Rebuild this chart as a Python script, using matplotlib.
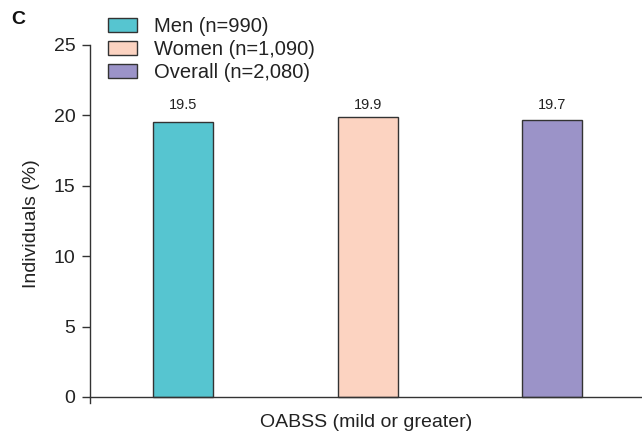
import matplotlib
matplotlib.use("Agg")
import matplotlib.pyplot as plt
from matplotlib.patches import Patch

plt.rcParams['font.family'] = ['Liberation Sans', 'DejaVu Sans']

groups = ["Men (n=990)", "Women (n=1,090)", "Overall (n=2,080)"]
values = [19.5, 19.9, 19.7]
colors = ["#56C5D0", "#FCD3C1", "#9B93C8"]
yticks = [0, 5, 10, 15, 20, 25]
xlabel = "OABSS (mild or greater)"
ylabel = "Individuals (%)"
panel = "C"

W, H = 642, 434
fig = plt.figure(figsize=(W / 100, H / 100), dpi=100)
ax = fig.add_axes([90 / W, (H - 403) / H, 1 - 90 / W, (403 - 45) / H])

edge = "#333333"
txt = "#222222"
xs = list(range(len(values)))
ax.bar(xs, values, width=0.325, color=colors, edgecolor=edge, linewidth=1.0, zorder=2)
for x, v in zip(xs, values):
    ax.text(x, max(values) + 0.85, f"{v:.1f}", ha="center", va="center",
            fontsize=10.5, color=txt)

ax.set_xlim(-0.503, 2.486)
ax.set_ylim(-0.43, 25)
ax.axhline(0, color=edge, lw=1.0, zorder=3, clip_on=False)
ax.set_yticks(yticks)
ax.set_xticks([])
for s in ["top", "right", "bottom"]:
    ax.spines[s].set_visible(False)
ax.spines["left"].set_color(edge)
ax.spines["left"].set_linewidth(1.0)
ax.tick_params(axis="y", direction="out", length=6, width=1.0, color=edge,
               labelsize=14, labelcolor=txt, pad=4.5)
ax.set_xlabel(xlabel, fontsize=14, color=txt, labelpad=8)
ax.set_ylabel(ylabel, fontsize=14, color=txt, labelpad=10)

handles = [Patch(facecolor=c, edgecolor=edge, linewidth=1.0) for c in colors]
fig.legend(handles, groups, loc="upper left", bbox_to_anchor=(106 / W, 1 - 15 / H),
           frameon=False, fontsize=14.5, handlelength=1.45, handleheight=0.7,
           handletextpad=0.85, labelspacing=0.2, borderaxespad=0, borderpad=0.1,
           labelcolor=txt)

fig.text(11 / W, 1 - 20 / H, panel, fontsize=14, fontweight="bold", ha="left",
         va="center", color="#111111")

fig.savefig("out.png", dpi=100)
